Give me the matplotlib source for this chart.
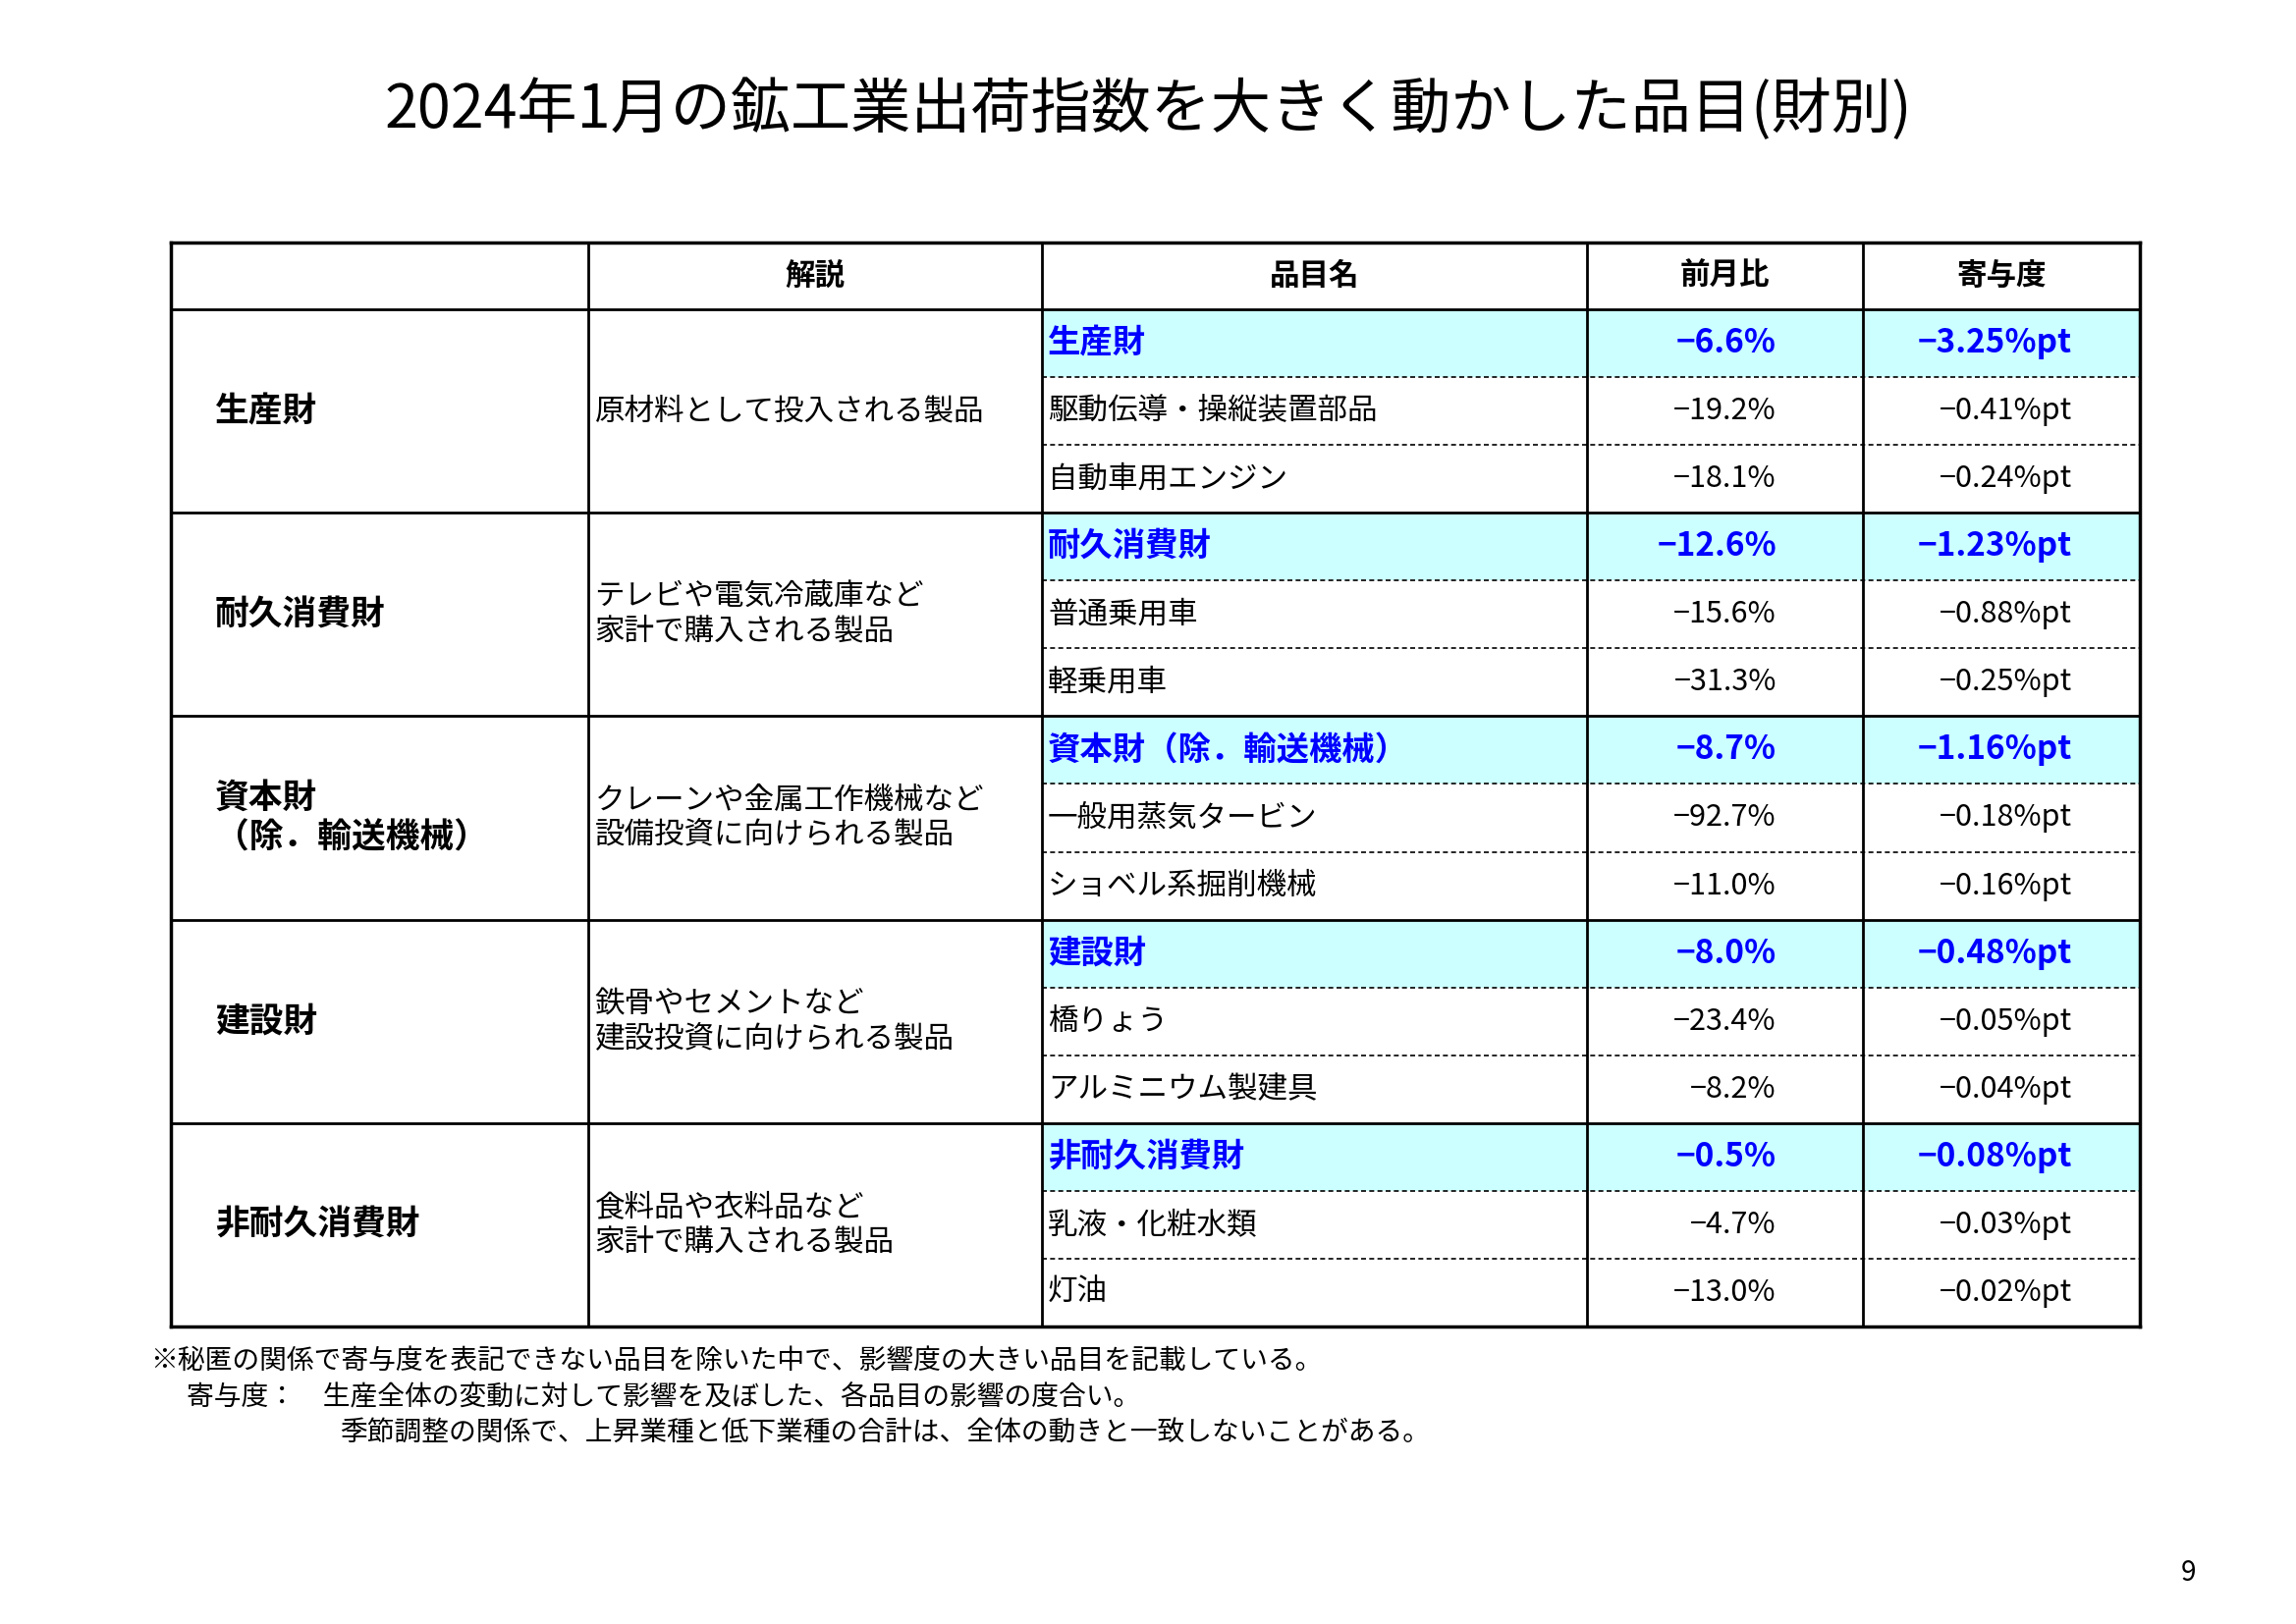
import matplotlib
matplotlib.use("Agg")
import matplotlib.pyplot as plt

plt.rcParams["font.family"] = "Noto Sans CJK JP"

title = "2024年1月の鉱工業出荷指数を大きく動かした品目(財別)"
headers = ["", "解説", "品目名", "前月比", "寄与度"]
groups = ["生産財", "耐久消費財", "資本財\n（除．輸送機械）", "建設財", "非耐久消費財"]
descs = ["原材料として投入される製品", "テレビや電気冷蔵庫など\n家計で購入される製品",
         "クレーンや金属工作機械など\n設備投資に向けられる製品", "鉄骨やセメントなど\n建設投資に向けられる製品",
         "食料品や衣料品など\n家計で購入される製品"]
items = [["生産財", "駆動伝導・操縦装置部品", "自動車用エンジン"],
         ["耐久消費財", "普通乗用車", "軽乗用車"],
         ["資本財（除．輸送機械）", "一般用蒸気タービン", "ショベル系掘削機械"],
         ["建設財", "橋りょう", "アルミニウム製建具"],
         ["非耐久消費財", "乳液・化粧水類", "灯油"]]
mom = [[-6.6, -19.2, -18.1], [-12.6, -15.6, -31.3], [-8.7, -92.7, -11.0],
       [-8.0, -23.4, -8.2], [-0.5, -4.7, -13.0]]
contrib = [[-3.25, -0.41, -0.24], [-1.23, -0.88, -0.25], [-1.16, -0.18, -0.16],
           [-0.48, -0.05, -0.04], [-0.08, -0.03, -0.02]]
notes = ["※秘匿の関係で寄与度を表記できない品目を除いた中で、影響度の大きい品目を記載している。",
         "寄与度：　生産全体の変動に対して影響を及ぼした、各品目の影響の度合い。",
         "季節調整の関係で、上昇業種と低下業種の合計は、全体の動きと一致しないことがある。"]

fig = plt.figure(figsize=(23.38, 16.54), dpi=100)
ax = fig.add_axes([0, 0, 1, 1])
ax.set_xlim(0, 1560); ax.set_ylim(1103, 0); ax.axis("off")

cols = [116, 400, 708, 1078, 1266, 1454]
top, hb = 165, 210
bottom = 901
rh = (bottom - hb) / 15
blue = "#0000ff"; cyan = "#ccffff"
fs = 22

ax.text(780, 75, title, ha="center", va="center", fontsize=44)
for i, h in enumerate(headers):
    if h:
        ax.text((cols[i] + cols[i+1]) / 2, (top + hb) / 2, h, ha="center", va="center",
                fontsize=fs, fontweight="bold")
for g in range(5):
    y0 = hb + g * 3 * rh
    ax.add_patch(plt.Rectangle((cols[2], y0), cols[5] - cols[2], rh, fc=cyan, ec="none", zorder=0))
    ax.text(cols[0] + 30, y0 + 1.5 * rh, groups[g], ha="left", va="center", fontsize=25,
            fontweight="bold", linespacing=1.2)
    ax.text(cols[1] + 4, y0 + 1.5 * rh, descs[g], ha="left", va="center", fontsize=fs,
            linespacing=1.15)
    for r in range(3):
        yc = y0 + (r + 0.5) * rh
        b = r == 0
        c = blue if b else "black"
        w = "bold" if b else "normal"
        f = 24 if b else fs
        ax.text(cols[2] + 4, yc, items[g][r], ha="left", va="center", fontsize=f, color=c, fontweight=w)
        ax.text(1207, yc, f"−{abs(mom[g][r]):.1f}%", ha="right", va="center", fontsize=f, color=c, fontweight=w)
        ax.text(1408, yc, f"−{abs(contrib[g][r]):.2f}%pt", ha="right", va="center", fontsize=f, color=c, fontweight=w)
        if r > 0:
            ax.plot([cols[2], cols[5]], [y0 + r * rh] * 2, color="black", lw=1.2, ls=(0, (3, 2)))
    ax.plot([cols[0], cols[5]], [y0] * 2, color="black", lw=2)
ax.plot([cols[0], cols[5]], [top] * 2, color="black", lw=2.5)
ax.plot([cols[0], cols[5]], [bottom] * 2, color="black", lw=2.5)
for i, x in enumerate(cols):
    ax.plot([x, x], [top, bottom], color="black", lw=2.5 if i in (0, 5) else 2)

ax.text(102, 925, notes[0], ha="left", va="center", fontsize=20)
ax.text(127, 949, notes[1], ha="left", va="center", fontsize=20)
ax.text(231, 973, notes[2], ha="left", va="center", fontsize=20)
ax.text(1487, 1068, "9", ha="center", va="center", fontsize=20)

fig.savefig("out.png", dpi=100)
